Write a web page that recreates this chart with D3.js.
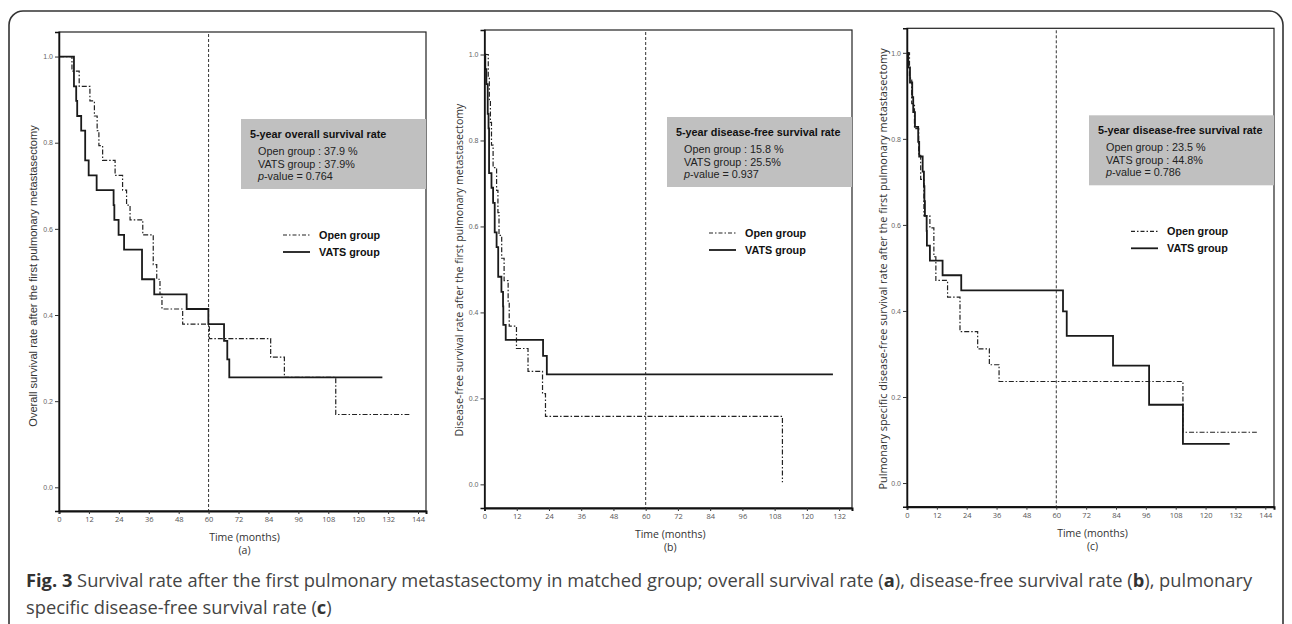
<!DOCTYPE html>
<html>
<head>
<meta charset="utf-8">
<script src="https://cdn.jsdelivr.net/npm/d3@7"></script>
<style>
  body { margin: 0; background: #fff; }
  svg { display: block; }
</style>
</head>
<body>
<script>
// months ticks
const ticksA = [0, 12, 24, 36, 48, 60, 72, 84, 96, 108, 120, 132, 144];
const ticksB = [0, 12, 24, 36, 48, 60, 72, 84, 96, 108, 120, 132];
const yTicks = [0.0, 0.2, 0.4, 0.6, 0.8, 1.0];

// Kaplan-Meier steps [month, survival], last point = end of follow-up
const openA = [[0,1],[5.2,0.966],[8.1,0.931],[12.4,0.897],[14.2,0.862],[15.3,0.828],[16,0.793],[17.5,0.759],[22.5,0.724],[25.5,0.690],[27.1,0.655],[28.5,0.621],[33.6,0.586],[37.8,0.517],[39.2,0.483],[40.5,0.448],[41.3,0.414],[49.6,0.379],[60.3,0.345],[84.9,0.302],[90.4,0.255],[111,0.169],[140.5,0.169]];
const vatsA = [[0,1],[6,0.931],[6.9,0.897],[7.3,0.862],[8.9,0.828],[10.5,0.759],[11.9,0.724],[15.1,0.690],[21.9,0.655],[22.2,0.621],[23.9,0.586],[26.1,0.552],[33.3,0.483],[38.2,0.448],[51.2,0.414],[59.9,0.379],[66.2,0.340],[67.5,0.297],[68.3,0.255],[129.7,0.255]];

const openB = [[0,1],[1.4,0.947],[1.8,0.895],[2.2,0.842],[2.6,0.789],[3.2,0.737],[4.5,0.684],[5.0,0.632],[5.4,0.579],[6.4,0.526],[7.3,0.474],[8.8,0.421],[9.2,0.368],[11.9,0.316],[16.2,0.263],[21.6,0.211],[22.7,0.158],[110.9,0.158],[110.9,0.005]];
const vatsB = [[0,1],[0.3,0.966],[0.7,0.931],[1.2,0.862],[1.5,0.828],[1.7,0.724],[2.6,0.690],[3.2,0.655],[3.8,0.586],[4.5,0.552],[5.1,0.483],[6.3,0.448],[6.9,0.414],[7.0,0.371],[7.9,0.336],[21.8,0.299],[23.2,0.256],[129.7,0.256]];

const openC = [[0,1],[1.0,0.941],[1.9,0.882],[3.0,0.824],[4.7,0.765],[5.5,0.706],[6.8,0.621],[9.2,0.593],[10.8,0.526],[11.6,0.471],[16.3,0.432],[21.3,0.352],[28.4,0.312],[33.1,0.275],[37.0,0.236],[110.9,0.118],[140.6,0.118]];
const vatsC = [[0,1],[0.5,0.966],[1.2,0.931],[2.1,0.897],[2.5,0.862],[3.2,0.828],[4.5,0.793],[4.9,0.759],[6.3,0.724],[6.8,0.690],[7.0,0.655],[7.2,0.621],[7.9,0.586],[8.0,0.552],[9.2,0.517],[14.3,0.483],[21.8,0.448],[62.7,0.399],[64.2,0.342],[82.8,0.273],[97.3,0.182],[110.9,0.091],[129.7,0.091]];

const yLabels = [
  "Overall survival rate after the first pulmonary metastasectomy",
  "Disease-free survival rate after the first pulmonary metastasectomy",
  "Pulmonary specific disease-free survival rate after the first pulmonary metastasectomy"
];
const boxTitles = ["5-year overall survival rate", "5-year disease-free survival rate", "5-year disease-free survival rate"];
const openRates = ["37.9 %", "15.8 %", "23.5 %"];
const vatsRates = ["37.9%", "25.5%", "44.8%"];
const pValues = ["0.764", "0.937", "0.786"];
const panelTags = ["(a)", "(b)", "(c)"];

const W = 1292, H = 624;
const svg = d3.select("body").append("svg").attr("width", W).attr("height", H);

// outer frame
svg.append("rect")
  .attr("x", 9).attr("y", 11).attr("width", 1274).attr("height", 680)
  .attr("rx", 14).attr("fill", "none").attr("stroke", "#333").attr("stroke-width", 1.6);

const panels = [
  {left: 59, right: 426, top: 32, bottom: 511, xMax: 147.2, ticks: ticksA, open: openA, vats: vatsA, labX: 33, labY: 276, labFont: "Liberation Sans, Arial, sans-serif", labSize: 11.1},
  {left: 484.5, right: 852, top: 30, bottom: 508, xMax: 136.8, ticks: ticksB, open: openB, vats: vatsB, labX: 459, labY: 270, labFont: "Open Sans, sans-serif", labSize: 10.6},
  {left: 907, right: 1274, top: 28.3, bottom: 506.7, xMax: 147.5, ticks: ticksA, open: openC, vats: vatsC, labX: 882, labY: 269, labFont: "Open Sans, sans-serif", labSize: 10.95}
];

panels.forEach(function (p, i) {
  const x = d3.scaleLinear().domain([0, p.xMax]).range([p.left, p.right]);
  const y = d3.scaleLinear().domain([-0.055, 1.057]).range([p.bottom, p.top]);
  const g = svg.append("g");

  // plot border
  g.append("rect").attr("x", p.left).attr("y", p.top)
    .attr("width", p.right - p.left).attr("height", p.bottom - p.top)
    .attr("fill", "none").attr("stroke", "#222").attr("stroke-width", 1.2);

  // info box
  const bx = p.right - 185, by = p.top + 87;
  g.append("rect").attr("x", bx).attr("y", by).attr("width", 185).attr("height", 70)
    .attr("fill", "#c0c0c0");
  const tf = "Liberation Sans, Arial, sans-serif";
  g.append("text").attr("x", bx + 9).attr("y", by + 19).text(boxTitles[i])
    .attr("font-family", tf).attr("font-size", 10.8).attr("font-weight", "bold").attr("fill", "#111");
  const lines = ["Open group : " + openRates[i], "VATS group : " + vatsRates[i]];
  lines.forEach(function (s, k) {
    g.append("text").attr("x", bx + 17).attr("y", by + 36 + k * 12.5).text(s)
      .attr("font-family", tf).attr("font-size", 10.8).attr("fill", "#222");
  });
  const pt = g.append("text").attr("x", bx + 17).attr("y", by + 61)
    .attr("font-family", tf).attr("font-size", 10.8).attr("fill", "#222");
  pt.append("tspan").attr("font-style", "italic").text("p");
  pt.append("tspan").text("-value = " + pValues[i]);

  // vertical 60-month reference
  g.append("line").attr("x1", x(60)).attr("x2", x(60)).attr("y1", p.top + 2).attr("y2", p.bottom)
    .attr("stroke", "#333").attr("stroke-width", 1).attr("stroke-dasharray", "3,2");

  const line = d3.line().x(d => x(d[0])).y(d => y(d[1])).curve(d3.curveStepAfter);
  g.append("path").datum(p.open).attr("d", line).attr("fill", "none")
    .attr("stroke", "#222").attr("stroke-width", 1.2).attr("stroke-dasharray", "5,2,1.5,2");
  g.append("path").datum(p.vats).attr("d", line).attr("fill", "none")
    .attr("stroke", "#1a1a1a").attr("stroke-width", 1.8);

  // legend
  const lx = p.right - 143, ly = p.top + 203;
  g.append("line").attr("x1", lx).attr("x2", lx + 27).attr("y1", ly).attr("y2", ly)
    .attr("stroke", "#222").attr("stroke-width", 1.2).attr("stroke-dasharray", "4,2,1.5,2");
  g.append("line").attr("x1", lx).attr("x2", lx + 27).attr("y1", ly + 17).attr("y2", ly + 17)
    .attr("stroke", "#1a1a1a").attr("stroke-width", 1.8);
  ["Open group", "VATS group"].forEach(function (s, k) {
    g.append("text").attr("x", lx + 36).attr("y", ly + 4 + k * 17).text(s)
      .attr("font-family", tf).attr("font-size", 10.8).attr("font-weight", "bold").attr("fill", "#111");
  });

  // axes
  const xAxis = d3.axisBottom(x).tickValues(p.ticks).tickSize(3).tickPadding(3);
  const xa = g.append("g").attr("transform", "translate(0," + p.bottom + ")").call(xAxis);
  xa.select(".domain").attr("stroke", "#111").attr("stroke-width", 2);
  xa.selectAll(".tick line").attr("stroke", "#333");
  xa.selectAll(".tick text").attr("font-family", "Open Sans, sans-serif").attr("font-size", 7.5).attr("fill", "#555");

  const yAxis = d3.axisLeft(y).tickValues(yTicks).tickFormat(d3.format(".1f")).tickSize(4).tickPadding(2);
  const ya = g.append("g").attr("transform", "translate(" + p.left + ",0)").call(yAxis);
  ya.select(".domain").attr("stroke", "#111").attr("stroke-width", 1.5);
  ya.selectAll(".tick line").attr("stroke", "#333");
  ya.selectAll(".tick text").attr("font-family", "Liberation Sans, Arial, sans-serif").attr("font-size", 7).attr("fill", "#666");

  // titles
  const cx = (p.left + p.right) / 2 + 2;
  g.append("text").attr("x", cx).attr("y", p.bottom + 30).attr("text-anchor", "middle")
    .text("Time (months)").attr("font-family", "Open Sans, sans-serif").attr("font-size", 10.5).attr("fill", "#333");
  g.append("text").attr("x", cx).attr("y", p.bottom + 43).attr("text-anchor", "middle")
    .text(panelTags[i]).attr("font-family", "Open Sans, sans-serif").attr("font-size", 10.5).attr("fill", "#333");

  g.append("text")
    .attr("transform", "translate(" + p.labX + "," + p.labY + ") rotate(-90)")
    .attr("text-anchor", "middle").attr("dominant-baseline", "central")
    .text(yLabels[i]).attr("font-family", p.labFont).attr("font-size", p.labSize).attr("fill", "#333");
});

// caption
const cap = svg.append("g").attr("font-family", "Open Sans, sans-serif").attr("font-size", 18.3).attr("fill", "#444");
const c1 = cap.append("text").attr("x", 26).attr("y", 587);
c1.append("tspan").attr("font-weight", "bold").attr("fill", "#333").text("Fig. 3");
c1.append("tspan").text(" Survival rate after the first pulmonary metastasectomy in matched group; overall survival rate (");
c1.append("tspan").attr("font-weight", "bold").attr("fill", "#333").text("a");
c1.append("tspan").text("), disease-free survival rate (");
c1.append("tspan").attr("font-weight", "bold").attr("fill", "#333").text("b");
c1.append("tspan").text("), pulmonary");
const c2 = cap.append("text").attr("x", 26).attr("y", 614);
c2.append("tspan").text("specific disease-free survival rate (");
c2.append("tspan").attr("font-weight", "bold").attr("fill", "#333").text("c");
c2.append("tspan").text(")");
</script>
</body>
</html>
